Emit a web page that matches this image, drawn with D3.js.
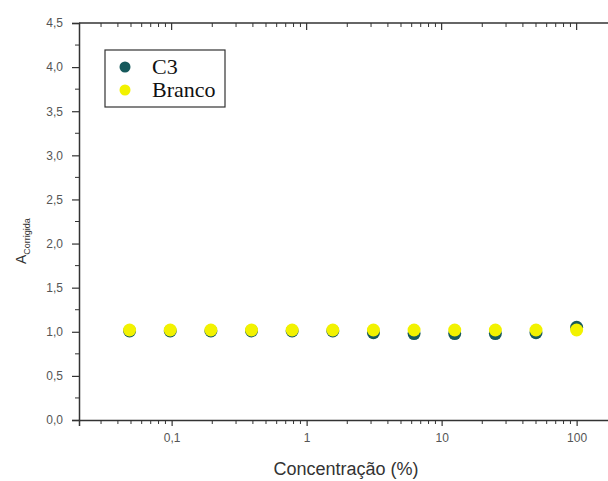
<!DOCTYPE html>
<html>
<head>
<meta charset="utf-8">
<script src="https://cdn.jsdelivr.net/npm/d3@7"></script>
<style>
  body { margin: 0; background: #fff; }
  svg { display: block; }
</style>
</head>
<body>
<svg id="chart" width="608" height="481"></svg>
<script>
// concentrations (%), serial dilution 1:2
const concentrations = [0.048828125, 0.09765625, 0.1953125, 0.390625, 0.78125, 1.5625, 3.125, 6.25, 12.5, 25, 50, 100];
const c3Values = [1.01, 1.01, 1.01, 1.01, 1.01, 1.01, 0.99, 0.98, 0.98, 0.98, 0.99, 1.05];
const brancoValues = [1.02, 1.02, 1.02, 1.02, 1.02, 1.02, 1.02, 1.02, 1.02, 1.02, 1.02, 1.02];
const yTicks = [0, 0.5, 1, 1.5, 2, 2.5, 3, 3.5, 4, 4.5];
const xTicks = [0.1, 1, 10, 100];
const seriesNames = ['C3', 'Branco'];

const svg = d3.select('#chart');
const plotLeft = 79, plotTop = 23, plotBottom = 420;
const decade = 135;
const xMin = 0.0206, xMax = 300;

const x = d3.scaleLog()
  .domain([xMin, xMax])
  .range([plotLeft, plotLeft + decade * Math.log10(xMax / xMin)]);
const y = d3.scaleLinear().domain([0, 4.5]).range([plotBottom, plotTop]);

const fmt = (d) => String(d).replace('.', ',');
const axisColor = '#333';
const labelColor = '#555';
const sans = 'Liberation Sans, Arial, sans-serif';

// frame (right side runs off the window like the original)
const plotRight = x.range()[1];
svg.append('line').attr('x1', plotLeft).attr('x2', plotRight).attr('y1', plotTop).attr('y2', plotTop)
  .attr('stroke', axisColor).attr('stroke-width', 1.5);

// minor x ticks
const minorX = [];
for (let e = -2; e <= 2; e++) {
  for (let m = 2; m <= 9; m++) {
    const v = m * Math.pow(10, e);
    if (v >= xMin && v <= xMax) minorX.push(v);
  }
}

// bottom axis
const xAxis = d3.axisBottom(x).tickValues(xTicks).tickFormat(fmt).tickSize(6).tickPadding(7);
const gx = svg.append('g').attr('transform', `translate(0,${plotBottom})`).call(xAxis);
gx.select('.domain').attr('stroke', axisColor).attr('stroke-width', 1.5);
gx.selectAll('.tick line').attr('stroke', axisColor).attr('stroke-width', 1.2);
gx.selectAll('.tick text').attr('fill', labelColor).attr('font-family', sans).attr('font-size', 12);

svg.append('g').selectAll('line').data(minorX).join('line')
  .attr('x1', (d) => x(d)).attr('x2', (d) => x(d))
  .attr('y1', plotBottom).attr('y2', plotBottom + 4)
  .attr('stroke', axisColor).attr('stroke-width', 1);

// top axis ticks, inward
svg.append('g').selectAll('line').data(xTicks).join('line')
  .attr('x1', (d) => x(d)).attr('x2', (d) => x(d))
  .attr('y1', plotTop).attr('y2', plotTop + 7)
  .attr('stroke', axisColor).attr('stroke-width', 1.2);
svg.append('g').selectAll('line').data(minorX).join('line')
  .attr('x1', (d) => x(d)).attr('x2', (d) => x(d))
  .attr('y1', plotTop).attr('y2', plotTop + 4)
  .attr('stroke', axisColor).attr('stroke-width', 1);

// left axis
const yAxis = d3.axisLeft(y).tickValues(yTicks).tickFormat((d) => d3.format('.1f')(d).replace('.', ','))
  .tickSize(7).tickPadding(9);
const gy = svg.append('g').attr('transform', `translate(${plotLeft},0)`).call(yAxis);
gy.select('.domain').attr('stroke', axisColor).attr('stroke-width', 1.5);
gy.selectAll('.tick line').attr('stroke', axisColor).attr('stroke-width', 1.2);
gy.selectAll('.tick text').attr('fill', labelColor).attr('font-family', sans).attr('font-size', 12);

const minorY = d3.range(0.25, 4.5, 0.5);
svg.append('g').selectAll('line').data(minorY).join('line')
  .attr('x1', plotLeft - 4).attr('x2', plotLeft)
  .attr('y1', (d) => y(d)).attr('y2', (d) => y(d))
  .attr('stroke', axisColor).attr('stroke-width', 1);

// axis titles
svg.append('text')
  .attr('x', 346).attr('y', 475)
  .attr('text-anchor', 'middle')
  .attr('font-family', sans)
  .attr('font-size', 18)
  .attr('fill', '#333')
  .text('Concentração (%)');

const yt = svg.append('text')
  .attr('transform', 'translate(26,264) rotate(-90)')
  .attr('font-family', sans)
  .attr('fill', '#333');
yt.append('tspan').attr('font-size', 14).text('A');
yt.append('tspan').attr('font-size', 9).attr('dy', 4).text('Corrigida');

// data points
const colors = { C3: '#16595c', Branco: '#f2f200' };
const r = 6.5;
const series = [
  { name: 'C3', values: c3Values },
  { name: 'Branco', values: brancoValues }
];
series.forEach((s) => {
  svg.append('g').selectAll('circle')
    .data(s.values.map((v, i) => ({ x: concentrations[i], y: v })))
    .join('circle')
    .attr('cx', (d) => x(d.x))
    .attr('cy', (d) => y(d.y))
    .attr('r', r)
    .attr('fill', colors[s.name]);
});

// legend
const lg = svg.append('g');
lg.append('rect').attr('x', 105).attr('y', 50).attr('width', 120).attr('height', 57)
  .attr('fill', '#fff').attr('stroke', '#333').attr('stroke-width', 1.2);
seriesNames.forEach((name, i) => {
  const cy = 67 + i * 23;
  lg.append('circle').attr('cx', 125).attr('cy', cy).attr('r', 5.5).attr('fill', colors[name]);
  lg.append('text').attr('x', 152).attr('y', cy + 7)
    .attr('font-family', 'Liberation Serif, Times New Roman, serif')
    .attr('font-size', 22).attr('fill', '#111')
    .text(name);
});
</script>
</body>
</html>
